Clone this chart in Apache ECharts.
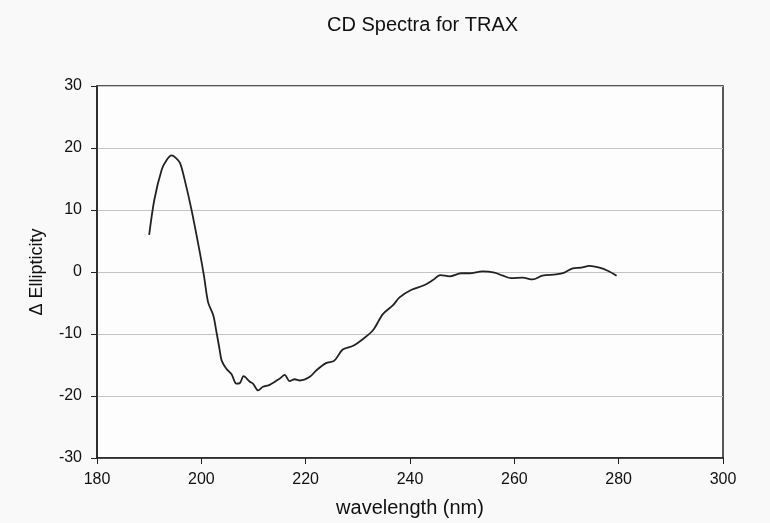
<!DOCTYPE html>
<html>
<head>
  <meta charset="UTF-8" />
  <title>CD Spectra for TRAX</title>
  <script src="https://cdn.jsdelivr.net/npm/echarts@6/dist/echarts.min.js"></script>
  <style>
    html, body, #main {
      margin: 0; padding: 0; width: 100%; height: 100%;
      background: #f9f9f9;
    }
  </style>
</head>
<body>
  <div id="main"></div>
  <script>
    const chart = echarts.init(document.getElementById('main'));

    // wavelength (nm) and delta ellipticity
    const wavelength = [
      190, 191, 192.4, 193.3, 194.3, 195, 195.9, 196.8, 198.1, 199.7,
      200.5, 201.3, 202.3, 202.8, 203.5, 203.9, 204.8, 205.8, 206.7, 207.4,
      208.1, 209.3, 209.9, 210.9, 211.8, 213.1, 215, 216, 216.9, 217.9,
      218.9, 220.8, 222, 223.9, 225.5, 227.1, 229.1, 231, 232.9, 234.8,
      236.7, 238, 240.2, 242.8, 244.4, 245.8, 247.6, 249.8, 251.4, 253.9,
      256.2, 257.8, 259.4, 261.6, 263.5, 265.4, 268, 269.6, 271.2, 272.8,
      274.4, 276.3, 277.9, 279.6
    ];
    const ellipticity = [
      6.0, 11.7, 16.5, 18.0, 18.8, 18.5, 17.6, 14.9, 10.1, 3.2,
      -0.6, -4.9, -7.0, -9.2, -12.5, -14.3, -15.6, -16.5, -18.0, -17.9,
      -16.8, -17.7, -18.0, -19.1, -18.5, -18.2, -17.2, -16.6, -17.6, -17.3,
      -17.5, -16.9, -15.9, -14.7, -14.3, -12.5, -11.9, -10.8, -9.4, -6.8,
      -5.4, -4.1, -2.9, -2.1, -1.3, -0.5, -0.7, -0.2, -0.2, 0.1,
      -0.1, -0.6, -1.0, -0.9, -1.2, -0.6, -0.4, -0.1, 0.6, 0.7,
      1.0, 0.7, 0.2, -0.6
    ];

    const points = wavelength.map((w, i) => [w, ellipticity[i]]);
    const font = 'Liberation Sans, Arial, sans-serif';

    chart.setOption({
      backgroundColor: '#f9f9f9',
      animation: false,
      title: {
        text: 'CD Spectra for TRAX',
        left: 322,
        top: 10,
        textStyle: { fontFamily: font, fontSize: 20, fontWeight: 'normal', color: '#111' }
      },
      grid: {
        left: 97, right: 47, top: 86, bottom: 55,
        show: true,
        backgroundColor: '#fdfdfd',
        borderColor: '#222',
        borderWidth: 1.5
      },
      xAxis: {
        type: 'value',
        min: 180, max: 300, interval: 20,
        name: 'wavelength (nm)',
        nameLocation: 'middle',
        nameGap: 40,
        nameTextStyle: { fontFamily: font, fontSize: 20, color: '#111' },
        axisLine: { onZero: false, lineStyle: { color: '#222', width: 1.5 } },
        axisTick: { show: true, inside: false, length: 6, lineStyle: { color: '#222' } },
        axisLabel: { fontFamily: font, fontSize: 16, color: '#111', margin: 14 },
        splitLine: { show: false }
      },
      yAxis: {
        type: 'value',
        min: -30, max: 30, interval: 10,
        name: 'Δ Ellipticity',
        nameLocation: 'middle',
        nameRotate: 90,
        nameGap: 51,
        nameTextStyle: { fontFamily: font, fontSize: 18, color: '#111' },
        axisLine: { show: true, onZero: false, lineStyle: { color: '#222', width: 1.5 } },
        axisTick: { show: true, inside: false, length: 6, lineStyle: { color: '#222' } },
        axisLabel: { fontFamily: font, fontSize: 16, color: '#111', margin: 15 },
        splitLine: { show: true, lineStyle: { color: '#c4c4c4', width: 1.2 } }
      },
      series: [{
        type: 'line',
        data: points,
        smooth: 0.3,
        showSymbol: false,
        lineStyle: { color: '#222', width: 1.8 }
      }]
    });
  </script>
</body>
</html>
